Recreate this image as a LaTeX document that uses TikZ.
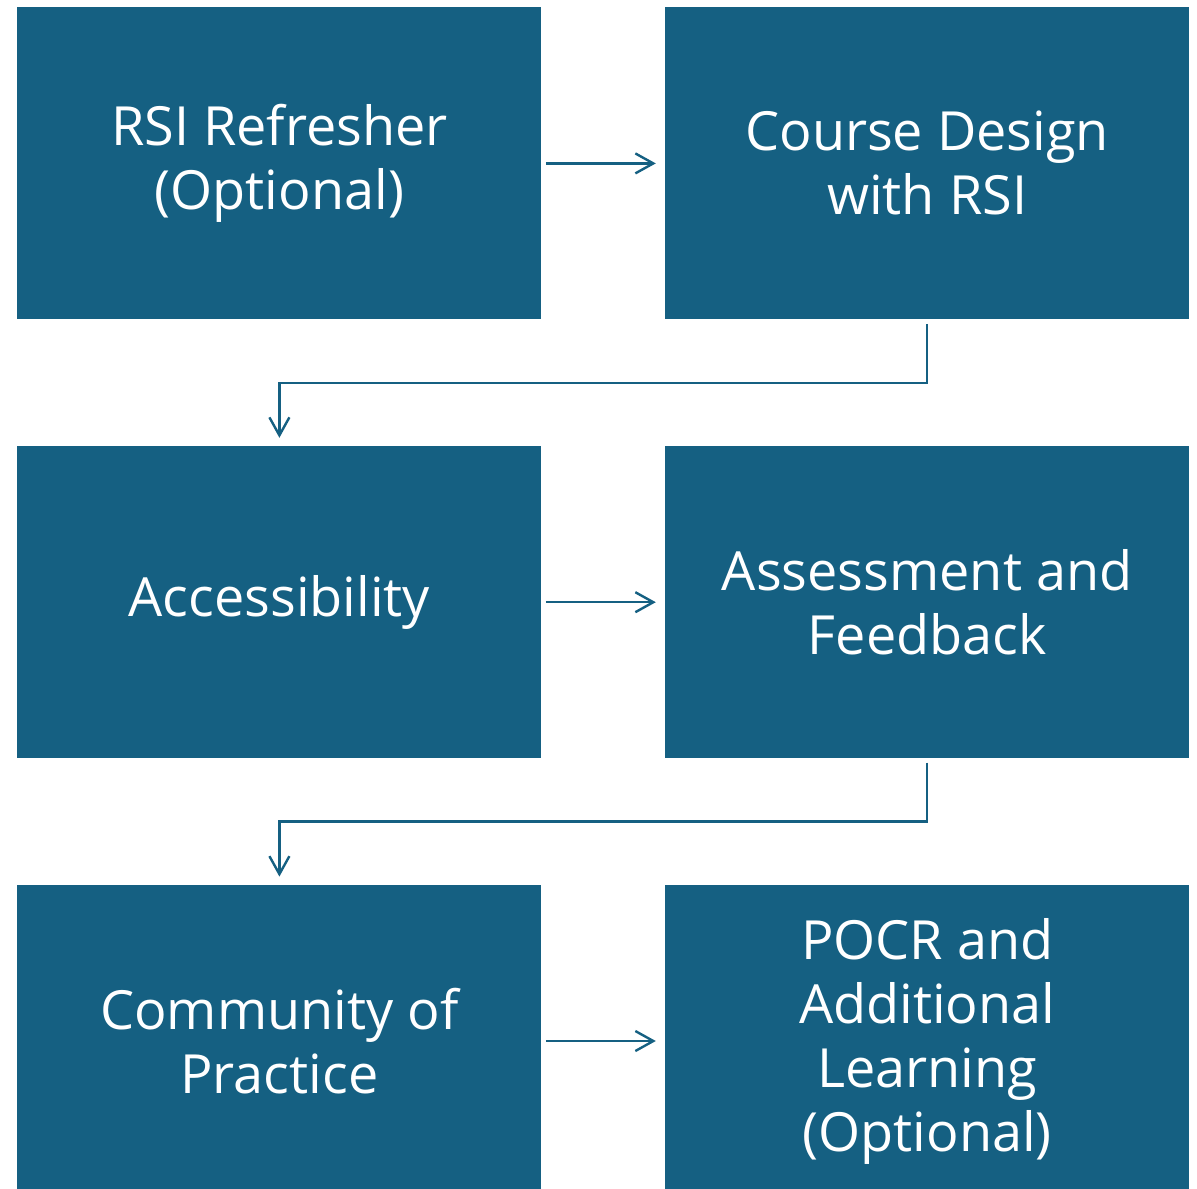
\documentclass[tikz,border=0pt]{standalone}
\usepackage{fontspec}
\setmainfont{Open Sans}
\usetikzlibrary{arrows.meta,positioning}
\definecolor{boxblue}{HTML}{156082}
\tikzstyle{stage}=[fill=boxblue,text=white,minimum width=262pt,minimum height=156pt,inner sep=0pt,align=center,font=\fontsize{27}{32}\selectfont]
\tikzstyle{flow}=[draw=boxblue,line width=1.2pt,-{Straight Barb[length=9pt,width=10pt]}]
\begin{document}
\begin{tikzpicture}[node distance=62pt and 63pt]
  \useasboundingbox (0,0) rectangle (598.5pt,-594pt);
  \node[stage,anchor=north west] (s1) at (8.5pt,-3.5pt) {RSI Refresher\\(Optional)};
  \node[stage] (s2) [right=61.5pt of s1] {Course Design\\with RSI};
  \node[stage] (s3) [below=63pt of s1] {Accessibility};
  \node[stage] (s4) [right=61.5pt of s3] {Assessment and\\Feedback};
  \node[stage] (s5) [below=63pt of s3] {Community of\\Practice};
  \node[stage] (s6) [right=61.5pt of s5] {POCR and\\Additional\\Learning\\(Optional)};

  \draw[flow,shorten <=2pt,shorten >=4.5pt] (s1) -- (s2);
  \draw[flow,shorten <=2pt,shorten >=4.5pt] (s3) -- (s4);
  \draw[flow,shorten <=2pt,shorten >=4.5pt] (s5) -- (s6);
  \draw[flow,shorten <=2pt,shorten >=4pt] (s2.south) -- ++(0,-31.5pt) -| (s3.north);
  \draw[flow,shorten <=2pt,shorten >=4pt] (s4.south) -- ++(0,-31.5pt) -| (s5.north);
\end{tikzpicture}
\end{document}
